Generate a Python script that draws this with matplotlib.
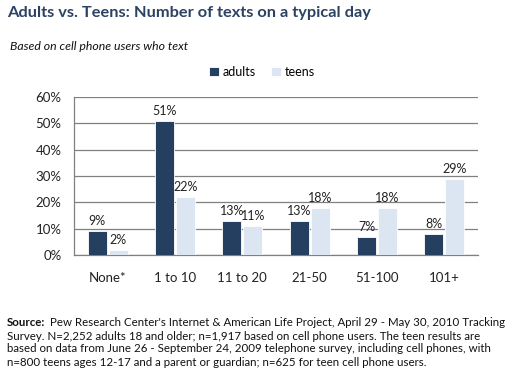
import matplotlib
matplotlib.use("Agg")
import matplotlib.pyplot as plt
import numpy as np

categories = ["None*", "1 to 10", "11 to 20", "21-50", "51-100", "101+"]
adults = [9, 51, 13, 13, 7, 8]
teens = [2, 22, 11, 18, 18, 29]
yticks = [0, 10, 20, 30, 40, 50, 60]

plt.rcParams['font.family'] = ['Lato', 'DejaVu Sans']

W, H = 510, 381
fig = plt.figure(figsize=(W/100, H/100), dpi=100)
ax = fig.add_axes([74/W, 1-255/H, (478-74)/W, (255-97)/H])

x = np.arange(len(categories))
bw = 0.28
c_ad = "#243F60"
c_te = "#DCE6F2"
ax.bar(x - 0.155, adults, bw, color=c_ad, edgecolor="white", linewidth=0.6, label="adults", zorder=3)
ax.bar(x + 0.155, teens, bw, color=c_te, edgecolor="white", linewidth=0.6, label="teens", zorder=3)

for xi, v in zip(x, adults):
    ax.text(xi - 0.155, v + 1.5, f"{v}%", ha="center", va="bottom", fontsize=9, color="#222222")
for xi, v in zip(x, teens):
    ax.text(xi + 0.155, v + 1.5, f"{v}%", ha="center", va="bottom", fontsize=9, color="#222222")

ax.set_xlim(-0.5, 5.5)
ax.set_ylim(0, 60)
ax.set_yticks(yticks)
ax.set_yticklabels([f"{t}%" for t in yticks], fontsize=9.5, color="#222222")
ax.set_xticks(x)
ax.set_xticklabels(categories, fontsize=9.5, color="#222222")
ax.tick_params(axis="y", length=0, pad=9)
ax.tick_params(axis="x", length=0, pad=12)
ax.yaxis.grid(True, color="#808080", linewidth=0.9, zorder=0)
for s in ["top", "right"]:
    ax.spines[s].set_visible(False)
for s in ["left", "bottom"]:
    ax.spines[s].set_color("#808080")
    ax.spines[s].set_linewidth(0.9)

leg = fig.legend(loc="center", bbox_to_anchor=(262/W, 1-72/H), ncol=2, frameon=False,
                 fontsize=9, handlelength=0.8, handleheight=0.8, handletextpad=0.3,
                 columnspacing=1.2)

fig.text(7/W, 1-13/H, "Adults vs. Teens: Number of texts on a typical day", fontsize=11.8,
         fontweight="bold", color="#2B4263", va="center", ha="left")
fig.text(10/W, 1-47/H, "Based on cell phone users who text", fontsize=8.8, style="italic",
         color="#111111", va="center", ha="left")

src_lines = [
    "Pew Research Center's Internet & American Life Project, April 29 - May 30, 2010 Tracking",
    "Survey. N=2,252 adults 18 and older; n=1,917 based on cell phone users. The teen results are",
    "based on data from June 26 - September 24, 2009 telephone survey, including cell phones, with",
    "n=800 teens ages 12-17 and a parent or guardian; n=625 for teen cell phone users.",
]
ys = [322, 336, 349, 363]
t0 = fig.text(7/W, 1-ys[0]/H, "Source:", fontsize=8.25, fontweight="bold", color="#111111", va="center")
fig.canvas.draw()
bb = t0.get_window_extent()
fig.text((bb.x1 + 5)/W, 1-ys[0]/H, src_lines[0], fontsize=8.25, color="#111111", va="center")
for line, y in zip(src_lines[1:], ys[1:]):
    fig.text(7/W, 1-y/H, line, fontsize=8.25, color="#111111", va="center")

fig.savefig("out.png", dpi=100)
